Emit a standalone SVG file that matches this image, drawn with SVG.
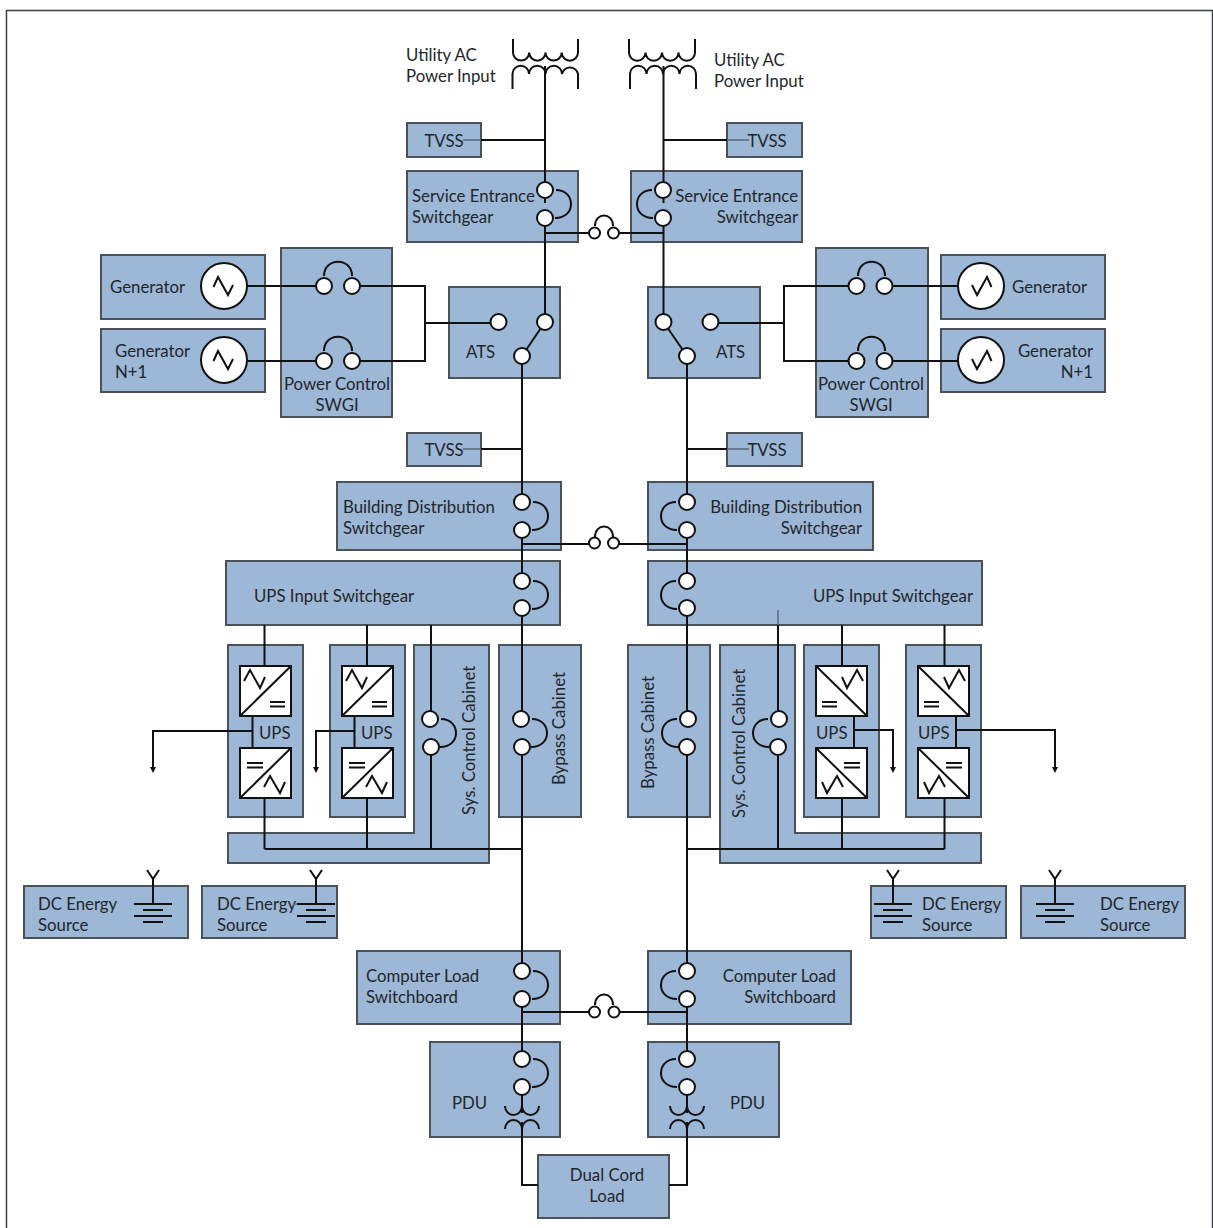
<svg xmlns="http://www.w3.org/2000/svg" width="1213" height="1228" viewBox="0 0 1213 1228">
<style>
.b{fill:#9db7d6;stroke:#4b5158;stroke-width:2}
text{font-family:"Lato","Liberation Sans",sans-serif;font-size:16.8px;fill:#22262b}
.e{text-anchor:end}.m{text-anchor:middle}
.l{fill:none;stroke:#111;stroke-width:2}
.g{fill:none;stroke:#5a6a7a;stroke-width:1.5}
.c{fill:#fff;stroke:#111;stroke-width:2}
.p{fill:#fff;stroke:#111;stroke-width:2}
</style>
<defs>
<marker id="ah" markerWidth="7" markerHeight="7" refX="0" refY="3" orient="auto" markerUnits="userSpaceOnUse"><path d="M0 0L6 3L0 6Z" fill="#111"/></marker>
<g id="conv"><rect class="p" x="0" y="0" width="51" height="50"/><path class="l" d="M0 50L51 0M4 15L10 4L20 22L25 11M30 36H45M30 40.500H45"/></g>
<g id="conv2"><rect class="p" x="0" y="0" width="51" height="50"/><path class="l" d="M0 50L51 0M7 15H23M7 19.500H23M24 39L30 28L40 45L45 34"/></g>
<path id="sw" class="l" d="M11 0C21 0 26 7 26 14C26 21 21 28 10 28"/>
<g id="gnd"><path class="l" d="M-6 0L0 9L6 0M0 9V34M-19 34H19M-10 40H10M-19 46H19M-10 52H10"/></g>
</defs>
<rect width="1213" height="1228" fill="#fff"/>
<path d="M6.500 1228V10.500H1212.500V1228" fill="none" stroke="#3c4146" stroke-width="1.500"/>

<g id="label-utility-left"><text x="406" y="61">Utility AC</text><text x="406" y="82">Power Input</text></g>
<g id="label-utility-right"><text x="714" y="66">Utility AC</text><text x="714" y="87">Power Input</text></g>
<g id="tvss1"><rect class="b" x="407" y="123" width="74" height="34"/><text class="m" x="444" y="147">TVSS</text></g>
<g id="tvss2"><rect class="b" x="727" y="123" width="75" height="34"/><text class="m" x="767" y="147">TVSS</text></g>
<g id="service-left"><rect class="b" x="407" y="171" width="171" height="71"/><text x="412" y="202">Service Entrance</text><text x="412" y="223">Switchgear</text></g>
<g id="service-right"><rect class="b" x="631" y="171" width="171" height="71"/><text class="e" x="798" y="202">Service Entrance</text><text class="e" x="798" y="223">Switchgear</text></g>
<g id="gen1"><rect class="b" x="101" y="255" width="164" height="64"/><text x="110" y="293">Generator</text></g>
<g id="gen2"><rect class="b" x="101" y="329" width="164" height="63"/><text x="115" y="357">Generator</text><text x="115" y="378">N+1</text></g>
<g id="pcs-left"><rect class="b" x="281" y="248" width="111" height="169"/><text class="m" x="337" y="390">Power Control</text><text class="m" x="337" y="411">SWGI</text></g>
<g id="ats-left"><rect class="b" x="449" y="287" width="111" height="91"/><text x="466" y="358">ATS</text></g>
<g id="ats-right"><rect class="b" x="648" y="287" width="112" height="91"/><text x="716" y="358">ATS</text></g>
<g id="pcs-right"><rect class="b" x="816" y="248" width="112" height="169"/><text class="m" x="871" y="390">Power Control</text><text class="m" x="871" y="411">SWGI</text></g>
<g id="gen3"><rect class="b" x="941" y="255" width="164" height="64"/><text x="1012" y="293">Generator</text></g>
<g id="gen4"><rect class="b" x="941" y="329" width="164" height="63"/><text class="e" x="1093" y="357">Generator</text><text class="e" x="1093" y="378">N+1</text></g>
<g id="tvss3"><rect class="b" x="407" y="433" width="74" height="33"/><text class="m" x="444" y="456">TVSS</text></g>
<g id="tvss4"><rect class="b" x="727" y="433" width="75" height="33"/><text class="m" x="767" y="456">TVSS</text></g>
<g id="bds-left"><rect class="b" x="337" y="482" width="224" height="68"/><text x="343" y="513">Building Distribution</text><text x="343" y="534">Switchgear</text></g>
<g id="bds-right"><rect class="b" x="648" y="482" width="225" height="68"/><text class="e" x="862" y="513">Building Distribution</text><text class="e" x="862" y="534">Switchgear</text></g>
<g id="upsin-left"><rect class="b" x="226" y="561" width="334" height="64"/><text x="254" y="602">UPS Input Switchgear</text></g>
<g id="upsin-right"><rect class="b" x="648" y="561" width="334" height="64"/><text class="e" x="973" y="602">UPS Input Switchgear</text></g>
<g id="ups1"><rect class="b" x="228" y="645" width="75" height="172"/><text x="259" y="739">UPS</text></g>
<g id="ups2"><rect class="b" x="330" y="645" width="75" height="172"/><text x="361" y="739">UPS</text></g>
<g id="sys-left"><path class="b" d="M414 645H489V863H228V833H414Z"/><text transform="translate(475 815) rotate(-90)">Sys. Control Cabinet</text></g>
<g id="bypass-left"><rect class="b" x="499" y="645" width="82" height="172"/><text transform="translate(565 785) rotate(-90)">Bypass Cabinet</text></g>
<g id="bypass-right"><rect class="b" x="628" y="645" width="82" height="172"/><text transform="translate(654 789) rotate(-90)">Bypass Cabinet</text></g>
<g id="sys-right"><path class="b" d="M720 645H795V833H981V863H720Z"/><text transform="translate(745 818) rotate(-90)">Sys. Control Cabinet</text></g>
<g id="ups3"><rect class="b" x="804" y="645" width="75" height="172"/><text x="816" y="739">UPS</text></g>
<g id="ups4"><rect class="b" x="906" y="645" width="75" height="172"/><text x="918" y="739">UPS</text></g>
<g id="dc1"><rect class="b" x="24" y="886" width="164" height="52"/><text x="38" y="910">DC Energy</text><text x="38" y="931">Source</text></g>
<g id="dc2"><rect class="b" x="202" y="886" width="135" height="52"/><text x="217" y="910">DC Energy</text><text x="217" y="931">Source</text></g>
<g id="dc3"><rect class="b" x="871" y="886" width="135" height="52"/><text x="922" y="910">DC Energy</text><text x="922" y="931">Source</text></g>
<g id="dc4"><rect class="b" x="1021" y="886" width="164" height="52"/><text x="1100" y="910">DC Energy</text><text x="1100" y="931">Source</text></g>
<g id="cls-left"><rect class="b" x="357" y="951" width="203" height="73"/><text x="366" y="982">Computer Load</text><text x="366" y="1003">Switchboard</text></g>
<g id="cls-right"><rect class="b" x="648" y="951" width="203" height="73"/><text class="e" x="836" y="982">Computer Load</text><text class="e" x="836" y="1003">Switchboard</text></g>
<g id="pdu-left"><rect class="b" x="430" y="1042" width="130" height="95"/><text x="452" y="1109">PDU</text></g>
<g id="pdu-right"><rect class="b" x="648" y="1042" width="131" height="95"/><text x="730" y="1109">PDU</text></g>
<g id="dual"><rect class="b" x="538" y="1155" width="131" height="63"/><text class="m" x="607" y="1181">Dual Cord</text><text class="m" x="607" y="1202">Load</text></g>

<g id="connectors">
<path class="l" d="M513 39V52.500A8.100 8.100 0 0 0 529.200 52.500A8.100 8.100 0 0 0 545.500 52.500A8.100 8.100 0 0 0 561.700 52.500A8.100 8.100 0 0 0 578 52.500V39"/>
<path class="l" d="M512.500 89V74A8.200 8.200 0 0 1 529 74A8.200 8.200 0 0 1 545.500 74A8.200 8.200 0 0 1 562 74A8.200 8.200 0 0 1 578 74V89"/>
<path class="l" d="M629 39V52.500A8.250 8.250 0 0 0 645.500 52.500A8.250 8.250 0 0 0 662 52.500A8.250 8.250 0 0 0 678.500 52.500A8.250 8.250 0 0 0 695 52.500V39"/>
<path class="l" d="M630 89V74A8.250 8.250 0 0 1 646.500 74A8.250 8.250 0 0 1 663 74A8.250 8.250 0 0 1 679.500 74A8.250 8.250 0 0 1 696 74V89"/>
<path class="l" d="M545 66V190M545 198V203M545 218V322M663.500 66V190M663.500 198V203M663.500 218V322"/>
<path class="l" d="M481 140H545M663.500 140H727M481 449H522M687 449H727"/>
<path class="g" d="M463 140H481M727 140H749M463 449H481M727 449H749"/>
<path class="l" d="M545 233H594M614 233H663.500M522 544H594M614 544H687M522 1012H595M614 1012H687"/>
<path class="l" d="M595 226C595 212 613 212 613 226M595 537C595 523 613 523 613 537M595 1005C595 991 613 991 613 1005"/>
<path class="l" d="M247 286H324M352 286H425V361H352M247 361H324M425 323H498"/>
<path class="l" d="M324 276C324 257 352 257 352 276M324 351C324 332 352 332 352 351"/>
<path class="l" d="M858 276C858 257 885 257 885 276M858 351C858 332 885 332 885 351"/>
<path class="l" d="M958 286H884M856 286H784V361H856M884 361H958M784 323H710"/>
<path class="l" d="M545 322L522 356V502M663.500 322L687 356V502"/>
<path class="l" d="M522 530V581M522 608V719M522 747V971M522 999V1059M522 1087V1113M522 1122V1185H538"/>
<path class="l" d="M687 530V581M687 608V719M687 747V971M687 999V1059M687 1087V1113M687 1122V1185H669"/>
<path class="l" d="M264.500 625V666M252.500 715V748M264.500 798V849M367 625V666M354.500 715V748M367 798V849M431 625V719M431 747V849M264.500 849H522"/>
<path class="l" d="M842 625V666M854 715V748M842 798V849M944.500 625V666M956 715V748M944.500 798V849M778 625V719M778 747V849M687 849H944.500"/>
<path class="g" d="M778 610V625"/>
<path class="l" marker-end="url(#ah)" d="M252.500 731H153V767"/>
<path class="l" marker-end="url(#ah)" d="M354.500 731H316V767"/>
<path class="l" marker-end="url(#ah)" d="M854 730H893V767"/>
<path class="l" marker-end="url(#ah)" d="M956 730H1055V767"/>
<path class="l" d="M505 1106A8.500 9 0 0 0 522 1106A8.500 9 0 0 0 539 1106M505 1129A8.500 9 0 0 1 522 1129A8.500 9 0 0 1 539 1129"/>
<path class="l" d="M670 1106A8.500 9 0 0 0 687 1106A8.500 9 0 0 0 704 1106M670 1129A8.500 9 0 0 1 687 1129A8.500 9 0 0 1 704 1129"/>
<use href="#gnd" x="153" y="870"/><use href="#gnd" x="316" y="870"/><use href="#gnd" x="893" y="870"/><use href="#gnd" x="1055" y="870"/>
<path class="g" d="M293 904H297"/>
</g>

<g id="contacts">
<circle class="c" cx="545" cy="190" r="8"/><circle class="c" cx="545" cy="218" r="8"/><use href="#sw" x="545" y="190"/>
<circle class="c" cx="663" cy="190" r="8"/><circle class="c" cx="663" cy="218" r="8"/><use href="#sw" transform="translate(663 190) scale(-1 1)"/>
<circle class="c" cx="594.500" cy="233" r="5.500"/><circle class="c" cx="613.500" cy="233" r="5.500"/>
<circle class="c" cx="594.500" cy="543" r="5.500"/><circle class="c" cx="613.500" cy="543" r="5.500"/>
<circle class="c" cx="594.500" cy="1012" r="5.500"/><circle class="c" cx="614" cy="1012" r="5.500"/>
<circle class="c" cx="224" cy="286" r="23"/><path class="l" d="M213.500 287L218 277L228 295L233 285"/>
<circle class="c" cx="224" cy="360" r="23"/><path class="l" d="M213.500 361L218 351L228 369L233 359"/>
<circle class="c" cx="981" cy="286" r="23"/><path class="l" d="M991.500 287L987 277L977 295L972 285"/>
<circle class="c" cx="981" cy="360" r="23"/><path class="l" d="M991.500 361L987 351L977 369L972 359"/>
<circle class="c" cx="324" cy="286" r="8"/><circle class="c" cx="352" cy="286" r="8"/><circle class="c" cx="324" cy="361" r="8"/><circle class="c" cx="352" cy="361" r="8"/>
<circle class="c" cx="856.500" cy="286" r="8"/><circle class="c" cx="884.500" cy="286" r="8"/><circle class="c" cx="856.500" cy="361" r="8"/><circle class="c" cx="884.500" cy="361" r="8"/>
<circle class="c" cx="498.500" cy="322" r="8"/><circle class="c" cx="545" cy="322" r="8"/><circle class="c" cx="522" cy="356" r="8"/>
<circle class="c" cx="663.500" cy="322" r="8"/><circle class="c" cx="710.500" cy="322" r="8"/><circle class="c" cx="687" cy="356" r="8"/>
<circle class="c" cx="522" cy="502" r="8"/><circle class="c" cx="522" cy="530" r="8"/><use href="#sw" x="522" y="502"/>
<circle class="c" cx="687" cy="502" r="8"/><circle class="c" cx="687" cy="530" r="8"/><use href="#sw" transform="translate(687 502) scale(-1 1)"/>
<circle class="c" cx="522" cy="581" r="8"/><circle class="c" cx="522" cy="608" r="8"/><use href="#sw" x="522" y="581"/>
<circle class="c" cx="687" cy="581" r="8"/><circle class="c" cx="687" cy="608" r="8"/><use href="#sw" transform="translate(687 581) scale(-1 1)"/>
<circle class="c" cx="430" cy="719" r="8"/><circle class="c" cx="431" cy="747" r="8"/><use href="#sw" x="430" y="719"/>
<circle class="c" cx="521" cy="719" r="8"/><circle class="c" cx="522" cy="747" r="8"/><use href="#sw" x="521" y="719"/>
<circle class="c" cx="688" cy="719" r="8"/><circle class="c" cx="687" cy="747" r="8"/><use href="#sw" transform="translate(688 719) scale(-1 1)"/>
<circle class="c" cx="779" cy="719" r="8"/><circle class="c" cx="778" cy="747" r="8"/><use href="#sw" transform="translate(779 719) scale(-1 1)"/>
<circle class="c" cx="522" cy="971" r="8"/><circle class="c" cx="522" cy="999" r="8"/><use href="#sw" x="522" y="971"/>
<circle class="c" cx="687" cy="971" r="8"/><circle class="c" cx="687" cy="999" r="8"/><use href="#sw" transform="translate(687 971) scale(-1 1)"/>
<circle class="c" cx="522" cy="1059" r="8"/><circle class="c" cx="522" cy="1087" r="8"/><use href="#sw" x="522" y="1059"/>
<circle class="c" cx="687" cy="1059" r="8"/><circle class="c" cx="687" cy="1087" r="8"/><use href="#sw" transform="translate(687 1059) scale(-1 1)"/>
</g>
<g id="converters">
<use href="#conv" x="240" y="666"/><use href="#conv2" x="240" y="748"/>
<use href="#conv" x="342" y="666"/><use href="#conv2" x="342" y="748"/>
<use href="#conv" transform="translate(867 666) scale(-1 1)"/><use href="#conv2" transform="translate(867 748) scale(-1 1)"/>
<use href="#conv" transform="translate(969 666) scale(-1 1)"/><use href="#conv2" transform="translate(969 748) scale(-1 1)"/>
</g>
</svg>
